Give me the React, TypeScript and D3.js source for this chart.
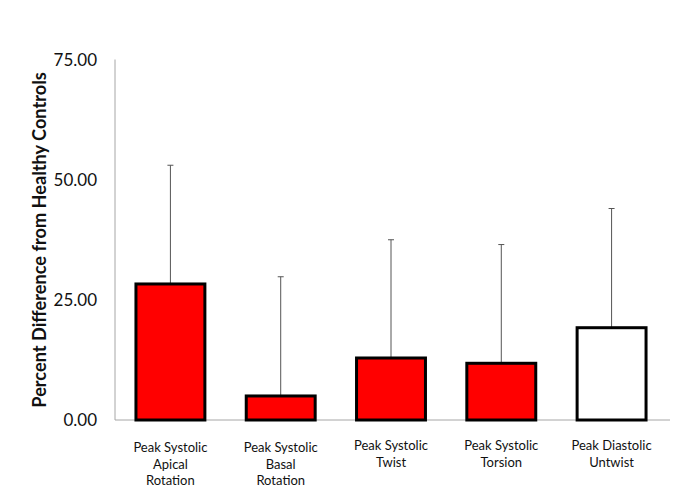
import React from "react";
import * as d3 from "d3";

const categories = [
  ["Peak Systolic", "Apical", "Rotation"],
  ["Peak Systolic", "Basal", "Rotation"],
  ["Peak Systolic", "Twist"],
  ["Peak Systolic", "Torsion"],
  ["Peak Diastolic", "Untwist"],
];
const values = [28.3, 5.0, 12.9, 11.8, 19.2];
const errorTops = [53.0, 29.8, 37.5, 36.5, 44.0];
const fills = ["#FF0000", "#FF0000", "#FF0000", "#FF0000", "#FFFFFF"];
const yTicks = [0, 25, 50, 75];
const yTitle = "Percent Difference from Healthy Controls";

const W = 685;
const H = 491;
const left = 115;
const right = 667;
const top = 59.5;
const bottom = 420;

export default function App() {
  const x = d3
    .scaleBand<number>()
    .domain(d3.range(values.length))
    .range([left, right])
    .paddingInner(0.375)
    .paddingOuter(0.19);
  const y = d3.scaleLinear().domain([0, 75]).range([bottom, top]);
  const fmt = d3.format(".2f");
  const font = "Lato, 'Open Sans', sans-serif";

  return (
    <svg
      width={W}
      height={H}
      style={{ position: "absolute", left: 0, top: 0, background: "#fff" }}
    >
      <line x1={left} x2={left} y1={y(75)} y2={y(0)} stroke="#a6a6a6" strokeWidth={1} />
      <line x1={left} x2={670} y1={y(0)} y2={y(0)} stroke="#a6a6a6" strokeWidth={1} />

      {yTicks.map((t) => (
        <text
          key={t}
          x={97}
          y={y(t)}
          dy="0.36em"
          textAnchor="end"
          fontFamily={font}
          fontSize={17}
          fill="#111"
        >
          {fmt(t)}
        </text>
      ))}

      <text
        transform={`translate(46,240) rotate(-90)`}
        textAnchor="middle"
        fontFamily={font}
        fontWeight="bold"
        fontSize={18.2}
        fill="#111"
      >
        {yTitle}
      </text>

      {values.map((v, i) => {
        const cx = (x(i) as number) + x.bandwidth() / 2;
        return (
          <g key={i}>
            <line x1={cx} x2={cx} y1={y(v)} y2={y(errorTops[i])} stroke="#555" strokeWidth={1} />
            <line
              x1={cx - 3}
              x2={cx + 3}
              y1={y(errorTops[i])}
              y2={y(errorTops[i])}
              stroke="#555"
              strokeWidth={1}
            />
            <rect
              x={x(i)}
              y={y(v)}
              width={x.bandwidth()}
              height={y(0) - y(v)}
              fill={fills[i]}
              stroke="#000"
              strokeWidth={3}
            />
            <text
              x={cx}
              y={categories[i].length === 2 ? 450 : 452}
              textAnchor="middle"
              fontFamily={font}
              fontSize={13}
              fill="#111"
            >
              {categories[i].map((l, j) => (
                <tspan key={j} x={cx} dy={j === 0 ? 0 : 16.5}>
                  {l}
                </tspan>
              ))}
            </text>
          </g>
        );
      })}
    </svg>
  );
}
